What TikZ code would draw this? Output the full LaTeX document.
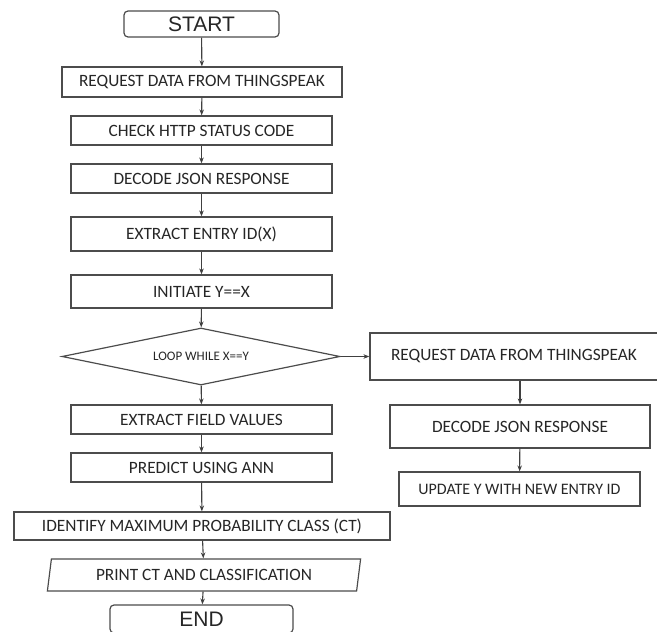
\documentclass[tikz,border=0pt]{standalone}
\usepackage{fontspec}
\setmainfont{Carlito}
\newfontfamily\arialfont{Liberation Sans}
\usetikzlibrary{shapes.geometric,arrows.meta}
\tikzset{
	box/.style={draw=black!70, line width=1.2pt, rectangle, inner sep=0pt, text=black!85, font=\fontsize{17.3}{20}\selectfont},
	term/.style={box, rounded corners=4pt, font=\arialfont\fontsize{21}{24}\selectfont},
	flow/.style={draw=black!75, line width=1.1pt, -{Stealth[length=6pt,width=4.5pt]}}
}
\begin{document}
\begin{tikzpicture}[x=1pt, y=-1pt]
	\useasboundingbox (0,0) rectangle (657,632);
	\begin{scope}
		\node[term, minimum width=155pt, minimum height=26pt] (start) at (201.5, 24) {START};
		\node[box, minimum width=280pt, minimum height=30pt] (req) at (202, 82) {REQUEST DATA FROM THINGSPEAK};
		\node[box, minimum width=261pt, minimum height=29pt] (check) at (201.5, 130.5) {CHECK HTTP STATUS CODE};
		\node[box, minimum width=261pt, minimum height=29pt] (dec) at (201.5, 178.5) {DECODE JSON RESPONSE};
		\node[box, minimum width=261pt, minimum height=34pt] (entry) at (201.5, 234) {EXTRACT ENTRY ID(X)};
		\node[box, minimum width=261pt, minimum height=33pt] (init) at (201.5, 291.5) {INITIATE Y==X};
		\node[box, diamond, aspect=4.9, minimum width=278pt, minimum height=57pt, font=\fontsize{13}{15}\selectfont] (loop) at (201, 356.5) {LOOP WHILE X==Y};
		\node[box, minimum width=261pt, minimum height=29pt] (field) at (201.5, 419.5) {EXTRACT FIELD VALUES};
		\node[box, minimum width=261pt, minimum height=29pt] (pred) at (201.5, 467.5) {PREDICT USING ANN};
		\node[box, minimum width=376pt, minimum height=28pt] (ident) at (202, 526) {IDENTIFY MAXIMUM PROBABILITY CLASS (CT)};
		\node[box, trapezium, trapezium left angle=76, trapezium right angle=104, trapezium stretches=true, minimum width=314pt, minimum height=32pt] (print) at (204, 575) {PRINT CT AND CLASSIFICATION};
		\node[term, minimum width=183pt, minimum height=28pt] (end) at (201.5, 619) {END};

		\node[box, minimum width=288pt, minimum height=47pt] (rreq) at (514, 356.5) {REQUEST DATA FROM THINGSPEAK};
		\node[box, minimum width=260pt, minimum height=43pt] (rdec) at (520, 426.5) {DECODE JSON RESPONSE};
		\node[box, minimum width=241pt, minimum height=34pt, font=\fontsize{16}{19}\selectfont] (upd) at (519.5, 489) {UPDATE Y WITH NEW ENTRY ID};

		\draw[flow] (start) -- (req);
		\draw[flow] (req) -- (check);
		\draw[flow] (check) -- (dec);
		\draw[flow] (dec) -- (entry);
		\draw[flow] (entry) -- (init);
		\draw[flow] (init) -- (loop);
		\draw[flow] (loop) -- (field);
		\draw[flow] (field) -- (pred);
		\draw[flow] (pred) -- (ident);
		\draw[flow] (ident) -- (print);
		\draw[flow] (print) -- (end);
		\draw[flow] (loop.east) -- (rreq.west);
		\draw[flow] (rreq.south -| rdec) -- (rdec);
		\draw[flow] (rdec) -- (upd);
	\end{scope}
\end{tikzpicture}
\end{document}
